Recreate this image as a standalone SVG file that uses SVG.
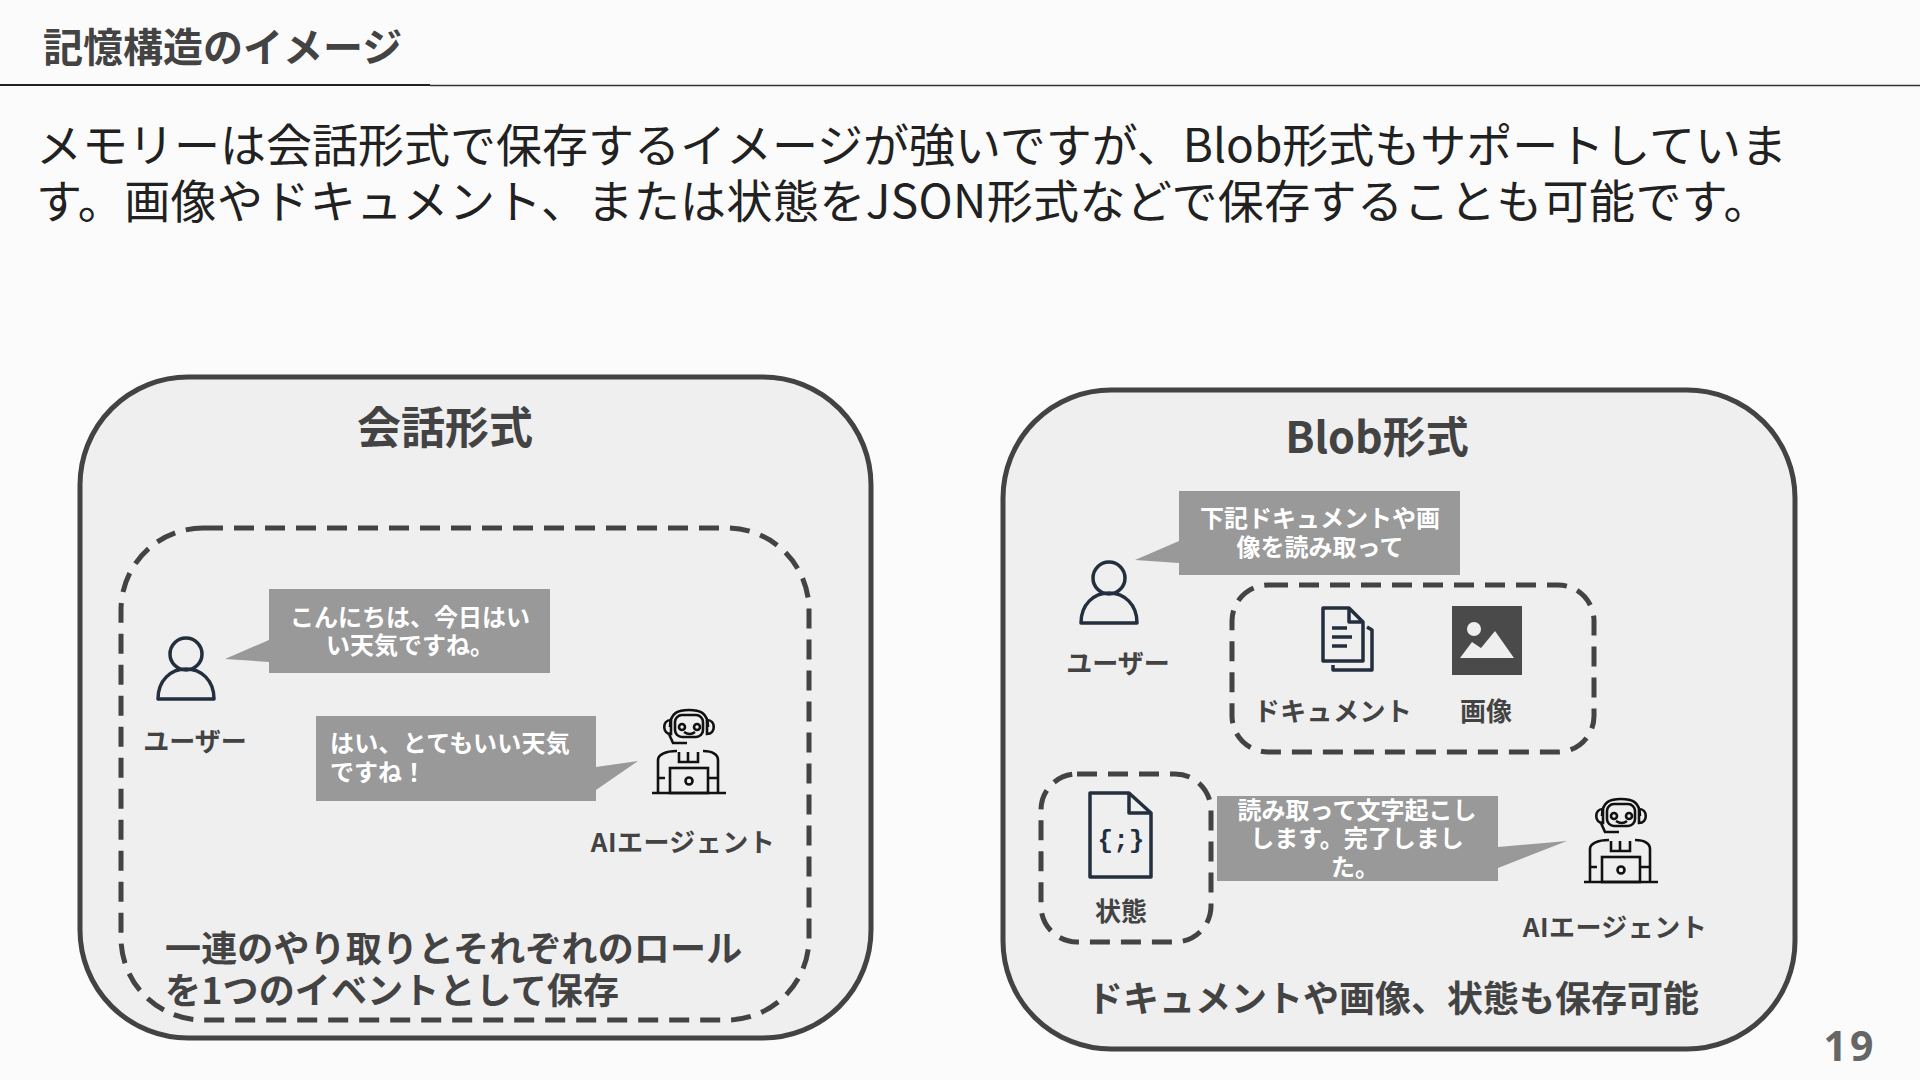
<svg xmlns="http://www.w3.org/2000/svg" width="1920" height="1080" viewBox="0 0 1920 1080">
<style>
text{font-family:"Noto Sans CJK JP","Noto Sans",sans-serif;fill:#434343}
.b{font-weight:700}
.outer{fill:#efefef;stroke:#434343;stroke-width:5}
.dash{fill:none;stroke:#434343;stroke-width:5;stroke-dasharray:20 11}
.bub{fill:#999}
.bt{fill:#fff;font-size:24px;font-weight:700;text-anchor:middle}
.lab{font-size:26px;font-weight:700;text-anchor:middle}
.ic{fill:none;stroke:#232f3e;stroke-width:3.500;stroke-linejoin:round}
.rb{fill:none;stroke:#111;stroke-width:2.600}
</style>
<defs>
<g id="user"><circle cx="0" cy="0" r="16" class="ic"/><path d="M-28 45C-28 26 -15 15 0 15C15 15 28 26 28 45Z" class="ic"/></g>
<g id="robot" class="rb">
<rect x="-14" y="-52" width="28" height="22" rx="7"/>
<path d="M-19 -40C-19 -55 -10 -57 0 -57C10 -57 19 -55 19 -40"/>
<path d="M-18 -47C-27 -47 -27 -33 -18 -33V-47M18 -47C27 -47 27 -33 18 -33V-47M-20 -33L-16 -24H-2"/>
<circle cx="-7" cy="-40" r="3"/><circle cx="8" cy="-40" r="3"/><path d="M-5 -35Q1 -31 6 -35"/>
<path d="M-31 26V-7C-31 -12 -24 -16 -12 -16M29 26V-7C29 -12 24 -16 14 -16M-10 -15V-5H9V-15M-1 -15V-5"/>
<rect x="-19" y="1" width="38" height="25"/><circle cx="0" cy="14" r="3.500"/><path d="M-37 26H37M-31 11H-24M19 11H29"/>
</g>
</defs>
<rect width="1920" height="1080" fill="#fbfbfb"/>
<g id="header">
<text class="b" x="43" y="62" font-size="40">記憶構造のイメージ</text>
<path d="M0 85H430" stroke="#222" stroke-width="2"/><path d="M430 85.500H1920" stroke="#333" stroke-width="1.500"/>
<text x="36" y="162" font-size="46" style="fill:#212121">メモリーは会話形式で保存するイメージが強いですが、Blob形式もサポートしていま</text>
<text x="36" y="218" font-size="46" letter-spacing="0.4" style="fill:#212121">す。画像やドキュメント、または状態をJSON形式などで保存することも可能です。</text>
</g>
<g id="panel-chat">
<rect class="outer" x="80" y="377" width="791" height="661" rx="108"/>
<text class="b" x="445" y="444" font-size="44" text-anchor="middle">会話形式</text>
<rect class="dash" x="121" y="528" width="688" height="492" rx="82"/>
<text class="b" x="165" y="962" font-size="36" letter-spacing="0.15">一連のやり取りとそれぞれのロール</text>
<text class="b" x="165" y="1004" font-size="36" letter-spacing="0.15">を1つのイベントとして保存</text>
</g>
<g id="user-1"><use href="#user" x="186" y="654"/><text class="lab" x="195" y="751">ユーザー</text></g>
<g id="bubble-1"><path class="bub" d="M269 589H550V673H269V662L225 659L269 640Z"/><text class="bt" x="410" y="626">こんにちは、今日はい</text><text class="bt" x="410" y="654">い天気ですね。</text></g>
<g id="bubble-2"><path class="bub" d="M316 716H596V767L638 761L596 790V801H316Z"/><text class="bt" x="330" y="752" letter-spacing="0.25" style="text-anchor:start">はい、とてもいい天気</text><text class="bt" x="330" y="781" style="text-anchor:start">ですね！</text></g>
<g id="agent-1"><use href="#robot" x="689" y="767"/><text class="lab" x="683" y="852" letter-spacing="0.45">AIエージェント</text></g>
<g id="panel-blob">
<rect class="outer" x="1003" y="390" width="792" height="659" rx="108"/>
<text class="b" x="1377" y="453" font-size="43" text-anchor="middle">Blob形式</text>
<rect class="dash" x="1232" y="585" width="362" height="167" rx="36"/>
<rect class="dash" x="1041" y="774" width="170" height="168" rx="36"/>
<text class="b" x="1393" y="1012" font-size="36" text-anchor="middle">ドキュメントや画像、状態も保存可能</text>
</g>
<g id="user-2"><use href="#user" x="1109" y="578"/><text class="lab" x="1118" y="673">ユーザー</text></g>
<g id="bubble-3"><path class="bub" d="M1179 491H1460V575H1179V563L1135 560L1179 541Z"/><text class="bt" x="1320" y="527">下記ドキュメントや画</text><text class="bt" x="1320" y="556">像を読み取って</text></g>
<g id="doc"><path class="ic" d="M1323 608H1349L1363 622V661H1323ZM1349 608V622H1363M1332 628H1347M1332 637H1352M1332 646H1347M1367 627L1372 630V670H1333V665"/><text class="lab" x="1333" y="721" letter-spacing="0.4">ドキュメント</text></g>
<g id="image"><rect x="1452" y="606" width="70" height="69" fill="#4a4a4a"/><circle cx="1474" cy="629" r="7" fill="#efefef"/><path fill="#efefef" d="M1460 658L1472 642L1481 648L1495 631L1514 658Z"/><text class="lab" x="1486" y="721">画像</text></g>
<g id="state"><path class="ic" d="M1090 793H1129L1151 813V877H1090ZM1129 793V813H1151"/><text x="1121" y="848" font-size="26" font-weight="700" text-anchor="middle" style="fill:#232f3e;font-family:'Liberation Mono',monospace">{;}</text><text class="lab" x="1121" y="921">状態</text></g>
<g id="bubble-4"><path class="bub" d="M1217 796H1498V847L1567 841L1498 868V881H1217Z"/><text class="bt" x="1357" y="819">読み取って文字起こし</text><text class="bt" x="1357" y="847">します。完了しまし</text><text class="bt" x="1355" y="876">た。</text></g>
<g id="agent-2"><use href="#robot" x="1621" y="856"/><text class="lab" x="1615" y="937" letter-spacing="0.45">AIエージェント</text></g>
<g id="connectors"></g>
<text id="page" class="b" x="1850" y="1061" font-size="41" letter-spacing="3" text-anchor="middle" style="fill:#666;font-family:'Noto Sans',sans-serif">19</text>
</svg>
